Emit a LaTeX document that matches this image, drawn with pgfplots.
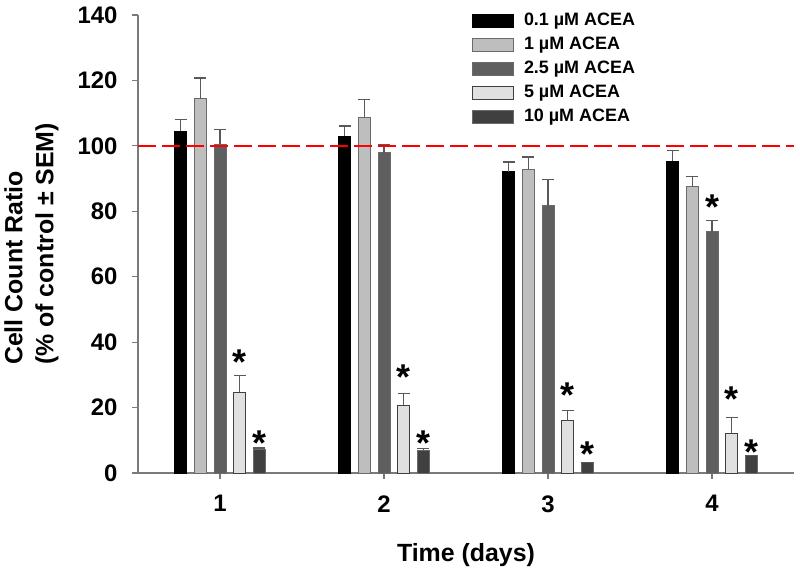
\documentclass[border=0pt]{standalone}
\usepackage{pgfplots}
\pgfplotsset{compat=1.18}
\usepackage{fontspec}
\setmainfont{Liberation Sans}
\definecolor{fA}{HTML}{000000}
\definecolor{fB}{HTML}{BEBEBE}
\definecolor{fC}{HTML}{5F5F5F}
\definecolor{fD}{HTML}{E0E0E0}
\definecolor{fE}{HTML}{404040}
\definecolor{edge}{HTML}{6A6A6A}
\definecolor{axisgray}{HTML}{7A7A7A}
\pgfplotsset{
  mybar/.style={line width=0.9bp,
    legend image code/.code={\draw[##1, line width=0.9bp] (0bp,-6.5bp) rectangle (41bp,6.5bp);},
    error bars/y dir=plus, error bars/y explicit,
    error bars/error bar style={line width=1.3bp, draw=black!65},
    error bars/error mark options={rotate=90, mark size=6bp, line width=1.3bp, draw=black!65}},
}
\begin{document}
\begin{tikzpicture}
\begin{axis}[
  ybar, bar width=0.073,
  scale only axis, width=656bp, height=458bp,
  xmin=0.5, xmax=4.5, ymin=0, ymax=140,
  axis lines=left,
  axis line style={-, draw=axisgray, line width=1.2bp},
  xtick={1,2,3,4}, ytick={0,20,...,140},
  tick align=outside, major tick length=6bp,
  tick style={draw=axisgray, line width=1.2bp},
  /pgf/number format/assume math mode=true,
  ticklabel style={font=\bfseries\fontsize{24}{28}\selectfont},
  yticklabel style={xshift=-11bp},
  xticklabel style={yshift=-13bp},
  xlabel={Time (days)},
  ylabel={Cell Count Ratio\\(\% of control ± SEM)},
  label style={font=\bfseries\fontsize{25}{31}\selectfont},
  xlabel style={at={(axis description cs:0.5,-0.1943)}, anchor=base},
  ylabel style={align=left, inner sep=0pt, at={(axis description cs:-0.121,0.5)}, anchor=south},
  legend style={at={(0.509,1.005)}, anchor=north west, draw=none, fill=none,
    inner sep=0pt, row sep=8bp,
    font=\bfseries\fontsize{18}{21}\selectfont,
    nodes={inner sep=0pt, text height=12.5bp, text depth=3.5bp},
    /tikz/every odd column/.append style={column sep=10bp}},
  legend cell align=left,
  clip=false,
]
\addplot[mybar, bar shift=-0.24, fill=fA, draw=black] coordinates {
  (1,104.4) +- (0,3.6) (2,102.9) +- (0,3.2) (3,92.1) +- (0,3.0) (4,95.3) +- (0,3.2)};
\addlegendentry{0.1 µM ACEA}
\addplot[mybar, bar shift=-0.12, fill=fB, draw=edge] coordinates {
  (1,114.4) +- (0,6.3) (2,108.7) +- (0,5.5) (3,92.8) +- (0,3.8) (4,87.5) +- (0,3.2)};
\addlegendentry{1 µM ACEA}
\addplot[mybar, bar shift=0, fill=fC, draw=edge] coordinates {
  (1,100.5) +- (0,4.4) (2,97.9) +- (0,2.6) (3,81.7) +- (0,8.1) (4,73.7) +- (0,3.5)};
\addlegendentry{2.5 µM ACEA}
\addplot[mybar, bar shift=0.12, fill=fD, draw=black!75] coordinates {
  (1,24.7) +- (0,5.0) (2,20.7) +- (0,3.7) (3,16.0) +- (0,3.1) (4,12.1) +- (0,4.9)};
\addlegendentry{5 µM ACEA}
\addplot[mybar, bar shift=0.24, fill=fE, draw=edge] coordinates {
  (1,7.2) +- (0,0.4) (2,6.8) +- (0,0.6) (3,3.2) +- (0,0) (4,5.3) +- (0,0)};
\addlegendentry{10 µM ACEA}
\addplot[forget plot, sharp plot, bar shift=0, red, dash pattern=on 18bp off 6bp, line width=1.3bp] coordinates {(0.5,100) (4.5,100)};
\addplot[forget plot, only marks, bar shift=0, mark=*, mark size=0pt, mark options={draw=none, fill=none},
  nodes near coords={*},
  nodes near coords style={anchor=base, yshift=-20bp, inner sep=0pt, font=\bfseries\fontsize{36}{36}\selectfont}]
  coordinates {(1.12,36.1) (1.24,11.6) (2.12,31.5) (2.24,11.6) (3.12,26.2) (3.24,8.0) (4,83.5) (4.12,24.9) (4.24,8.6)};
\end{axis}
\pgfresetboundingbox
\path ([xshift=-138bp,yshift=-99bp]current axis.south west) rectangle ([xshift=6bp,yshift=15bp]current axis.north east);
\end{tikzpicture}
\end{document}
